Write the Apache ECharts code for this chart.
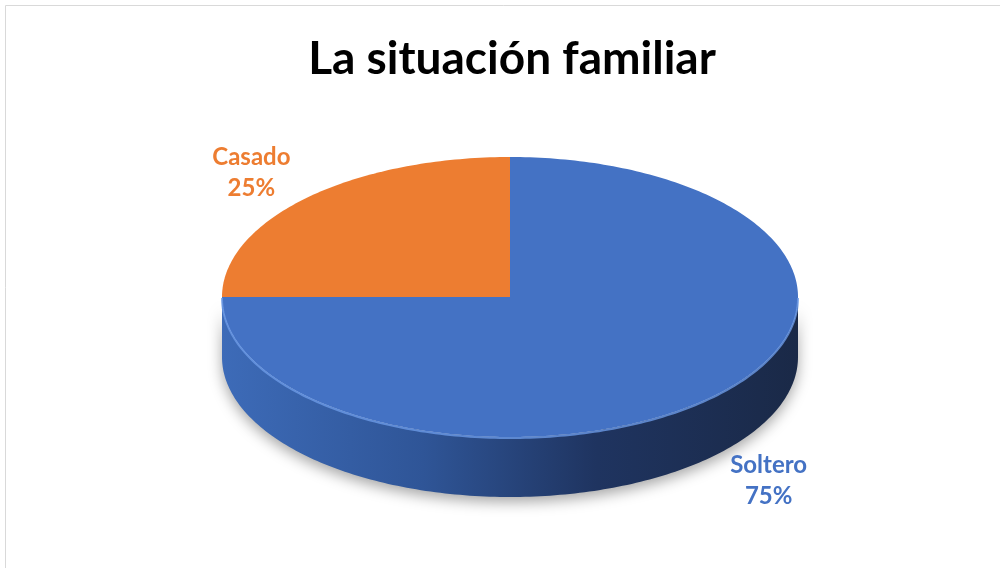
<!DOCTYPE html>
<html>
<head>
<meta charset="utf-8">
<script src="https://cdn.jsdelivr.net/npm/echarts@6/dist/echarts.min.js"></script>
<style>
  html, body { margin: 0; padding: 0; background: #fff; }
  #chart { width: 1000px; height: 568px; }
</style>
</head>
<body>
<div id="chart"></div>
<script>
const categories = ['Casado', 'Soltero']
const values = [25, 75]
const colors = ['#ED7D31', '#4472C4']

const total = values.reduce((a, b) => a + b, 0)
// pie geometry (flattened ellipse + side depth)
const cx = 510, cy = 297, rx = 288, ry = 140, depth = 60

function pt(deg, dy) {
  const t = deg * Math.PI / 180
  return [cx + rx * Math.cos(t), cy - ry * Math.sin(t) + (dy || 0)]
}
function arc(a, b, dy) {
  const pts = []
  const n = Math.max(2, Math.ceil(Math.abs(b - a)))
  for (let k = 0; k <= n; k++) pts.push(pt(a + (b - a) * k / n, dy))
  return pts
}

function renderItem(params, api) {
  const i = params.dataIndex
  let before = 0
  for (let k = 0; k < i; k++) before += values[k]
  const start = 90 + 360 * before / total
  const end = start + 360 * api.value(0) / total
  const children = []

  // front side wall (angles 180..360 face the viewer)
  const s0 = Math.max(start, 180), s1 = Math.min(end, 360)
  if (s1 > s0) {
    const top = arc(s0, s1, 0)
    const bottom = arc(s1, s0, depth)
    children.push({
      type: 'polygon',
      shape: { points: top.concat(bottom) },
      style: {
        fill: new echarts.graphic.LinearGradient(0, 0, 1, 0, [
          { offset: 0, color: '#3d6bb8' },
          { offset: 0.35, color: '#2f5597' },
          { offset: 0.65, color: '#1f3460' },
          { offset: 1, color: '#1a2947' }
        ]),
        shadowBlur: 14,
        shadowColor: 'rgba(0,0,0,0.35)',
        shadowOffsetY: 5
      }
    })
  }

  // top face
  children.push({
    type: 'polygon',
    shape: { points: [[cx, cy]].concat(arc(start, end, 0)) },
    style: { fill: colors[i] }
  })

  // light rim on the front edge
  if (s1 > s0) {
    children.push({
      type: 'polyline',
      shape: { points: arc(s0, s1, 1) },
      style: { stroke: '#6b9ae6', lineWidth: 2, fill: null, opacity: 0.8 }
    })
  }

  // label
  const mid = (start + end) / 2 * Math.PI / 180
  const lx = cx + rx * 1.27 * Math.cos(mid)
  let ly = cy - ry * 1.25 * Math.sin(mid)
  if (Math.sin(mid) < 0) ly += depth
  children.push({
    type: 'text',
    x: lx,
    y: ly,
    style: {
      text: categories[i] + '\n' + Math.round(api.value(0) / total * 100) + '%',
      fill: colors[i],
      font: 'bold 24px Lato',
      lineHeight: 31,
      align: 'center',
      verticalAlign: 'middle'
    }
  })

  return { type: 'group', children }
}

const chart = echarts.init(document.getElementById('chart'))
chart.setOption({
  animation: false,
  graphic: [{
    type: 'rect',
    shape: { x: 5.5, y: 5.5, width: 1010, height: 580 },
    style: { fill: null, stroke: '#d9d9d9', lineWidth: 1 },
    silent: true
  }, {
    type: 'text',
    x: 512,
    y: 59,
    style: {
      text: 'La situación familiar',
      font: 'bold 46px Lato',
      fill: '#000',
      align: 'center',
      verticalAlign: 'middle'
    }
  }],
  series: [{
    type: 'custom',
    coordinateSystem: 'none',
    renderItem,
    data: values.map(v => [v])
  }]
})
</script>
</body>
</html>
